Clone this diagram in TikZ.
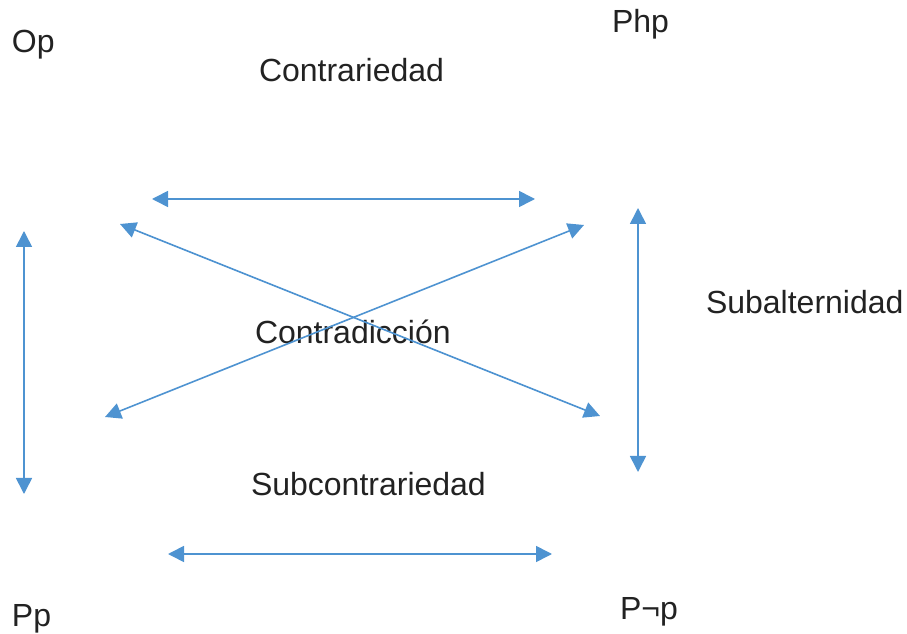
\documentclass[tikz,border=0pt]{standalone}
\usepackage{fontspec}
\setmainfont{Liberation Sans}
\usetikzlibrary{arrows.meta}
\definecolor{arrowblue}{HTML}{4E93D1}
\definecolor{txt}{HTML}{222222}
\begin{document}
\begin{tikzpicture}[x=0.75pt,y=-0.75pt,
  lbl/.style={anchor=base west,inner sep=0pt,outer sep=0pt,text=txt,font=\fontsize{24pt}{28pt}\selectfont},
  dbl/.style={draw=arrowblue,line width=1.2pt,{Triangle[length=12pt,width=12pt]}-{Triangle[length=12pt,width=12pt]}}]
\useasboundingbox (0,0) rectangle (907,634);
% labels
\node[lbl] (op) at (12,53) {Op};
\node[lbl] (php) at (612,33) {Php};
\node[lbl] (contr) at (259,82) {Contrariedad};
\node[lbl] (contrad) at (255,344) {Contradicción};
\node[lbl] (subalt) at (706,314) {Subalternidad};
\node[lbl] (subcon) at (251,495) {Subcontrariedad};
\node[lbl] (pp) at (12,626) {Pp};
\node[lbl] (pnp) at (620,619) {P¬p};
% arrow endpoints
\coordinate (th1) at (152,199);
\coordinate (th2) at (535,199);
\coordinate (bh1) at (168,554);
\coordinate (bh2) at (552,554);
\coordinate (lv1) at (24,231);
\coordinate (lv2) at (24,494);
\coordinate (rv1) at (638,208);
\coordinate (rv2) at (638,472);
\coordinate (d1a) at (120,224);
\coordinate (d1b) at (600,416);
\coordinate (d2a) at (105,417);
\coordinate (d2b) at (584,225);
% arrows
\draw[dbl] (th1) -- (th2);
\draw[dbl] (bh1) -- (bh2);
\draw[dbl] (lv1) -- (lv2);
\draw[dbl] (rv1) -- (rv2);
\draw[dbl] (d1a) -- (d1b);
\draw[dbl] (d2a) -- (d2b);
\end{tikzpicture}
\end{document}
